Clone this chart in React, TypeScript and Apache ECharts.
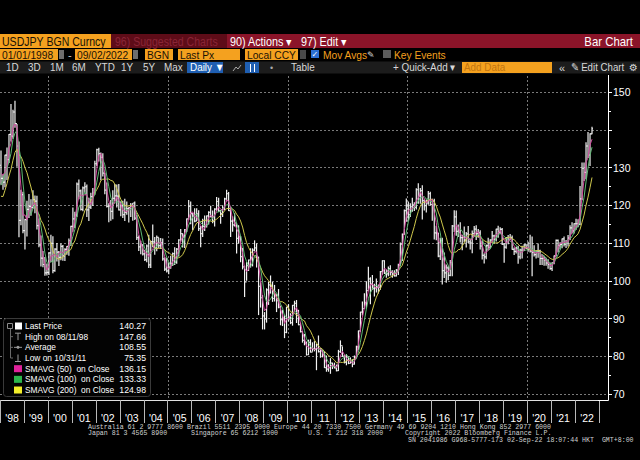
import React, { useEffect, useRef } from "react";
import * as echarts from "echarts";

// Month-end closes of Mar-Dec 1997 (only used to seed the moving averages)
const closes1997 = [123.7, 126.9, 116.5, 114.6, 118.3, 121.0, 120.6, 120.6, 127.6, 130.6];

// Monthly USDJPY bars, Jan 1998 .. Sep 2022
const closes = [
  127.1, 126.1, 133.3, 132.1, 138.8, 138.3, 144.7, 141.6, 135.7, 116.0, 122.8, 113.3,
  116.2, 118.9, 119.7, 119.4, 121.5, 121.1, 114.6, 109.5, 106.0, 104.3, 102.1, 102.2,
  107.4, 109.9, 102.7, 108.4, 107.6, 106.2, 109.1, 106.6, 108.3, 109.1, 110.6, 114.4,
  116.4, 117.4, 125.6, 123.8, 118.9, 124.6, 124.9, 118.8, 119.5, 122.3, 123.2, 131.0,
  134.7, 133.7, 132.7, 128.5, 124.0, 119.7, 119.8, 118.4, 121.8, 122.5, 122.4, 118.8,
  119.9, 117.5, 118.1, 119.1, 119.4, 120.0, 120.6, 116.6, 111.4, 109.0, 109.5, 107.1,
  105.6, 109.2, 104.2, 110.4, 110.3, 108.8, 111.5, 109.3, 110.1, 105.8, 103.1, 102.6,
  103.6, 104.6, 107.2, 104.9, 108.4, 110.8, 112.5, 111.6, 113.5, 116.4, 119.7, 117.8,
  117.2, 115.8, 117.7, 113.8, 112.5, 114.4, 114.6, 117.2, 118.1, 116.9, 115.8, 119.0,
  121.0, 118.5, 117.8, 119.4, 121.7, 123.1, 118.6, 115.8, 114.8, 115.3, 111.2, 111.7,
  106.4, 103.7, 99.7, 104.0, 105.5, 106.2, 108.1, 108.7, 106.1, 98.5, 95.5, 90.7,
  89.9, 97.6, 98.9, 98.6, 95.3, 96.4, 94.7, 93.0, 89.7, 90.1, 86.3, 93.0,
  90.3, 88.9, 93.5, 94.0, 91.3, 88.4, 86.5, 84.2, 83.5, 80.4, 83.7, 81.1,
  82.0, 81.8, 83.1, 81.2, 81.5, 80.5, 77.0, 76.6, 77.0, 78.2, 77.6, 76.9,
  76.2, 81.2, 82.8, 80.0, 78.4, 79.8, 78.1, 78.4, 77.9, 79.8, 82.5, 86.7,
  91.7, 92.6, 94.2, 97.4, 100.5, 99.1, 97.9, 98.1, 98.3, 98.3, 102.4, 105.3,
  102.0, 101.8, 103.2, 102.2, 101.8, 101.3, 102.8, 104.1, 109.7, 112.3, 118.6, 119.8,
  117.5, 119.6, 120.1, 119.4, 124.1, 122.5, 123.9, 121.2, 119.9, 120.6, 123.1, 120.2,
  121.1, 112.7, 112.6, 106.5, 110.7, 102.7, 102.1, 103.4, 101.4, 104.8, 114.5, 116.9,
  113.1, 112.8, 111.4, 111.5, 110.8, 112.4, 110.3, 110.0, 112.5, 113.7, 112.5, 112.7,
  109.2, 106.7, 106.3, 109.3, 108.8, 110.8, 111.9, 111.0, 113.7, 112.9, 113.6, 109.7,
  108.9, 111.4, 110.9, 111.4, 108.3, 107.8, 108.7, 106.3, 108.1, 108.0, 109.5, 108.6,
  108.4, 107.9, 107.5, 106.9, 107.8, 107.9, 105.9, 105.9, 105.5, 104.7, 104.3, 103.2,
  104.7, 106.6, 110.7, 109.3, 109.6, 111.1, 109.7, 110.0, 111.3, 114.0, 113.2, 115.1,
  115.1, 115.0, 121.7, 129.8, 128.7, 135.7, 133.3, 138.9, 140.27,
];

const highs = [
  134.5, 128.2, 133.4, 135.3, 138.9, 146.8, 145.3, 147.66, 141.5, 136.9, 124.1, 123.6,
  116.4, 121.2, 123.0, 121.6, 124.0, 122.6, 122.5, 116.4, 112.0, 107.9, 106.3, 104.6,
  107.5, 112.2, 111.8, 108.6, 110.0, 107.9, 109.9, 109.5, 108.6, 109.2, 111.2, 114.6,
  119.4, 118.3, 126.0, 126.8, 124.2, 125.0, 126.1, 125.5, 122.0, 123.3, 124.6, 131.8,
  135.0, 135.2, 134.0, 133.8, 128.6, 126.0, 120.5, 121.4, 124.0, 125.6, 125.5, 125.6,
  121.0, 121.2, 121.7, 121.0, 119.5, 120.6, 120.6, 121.0, 117.5, 112.0, 110.6, 109.7,
  108.2, 109.6, 112.2, 110.6, 114.9, 111.6, 112.0, 111.4, 111.3, 111.2, 106.2, 106.1,
  104.9, 106.6, 107.5, 108.9, 108.7, 111.0, 113.7, 112.5, 113.7, 116.5, 121.4, 121.0,
  118.0, 119.2, 119.2, 118.7, 114.5, 116.4, 117.3, 117.3, 118.4, 119.9, 118.6, 119.2,
  122.2, 122.0, 118.8, 120.0, 122.0, 124.1, 123.5, 119.5, 117.0, 117.9, 115.2, 114.7,
  111.8, 108.7, 104.0, 105.0, 105.6, 108.6, 108.6, 110.7, 109.9, 106.4, 99.6, 96.2,
  91.7, 98.0, 99.7, 101.4, 99.7, 98.9, 96.4, 97.8, 93.4, 92.3, 91.0, 93.1,
  93.8, 91.4, 93.6, 94.7, 94.9, 92.3, 88.9, 86.6, 85.9, 83.9, 84.4, 84.5,
  83.7, 84.0, 83.3, 85.5, 82.2, 81.7, 81.3, 80.2, 77.9, 79.5, 78.3, 78.3,
  77.8, 81.7, 84.2, 82.6, 80.4, 80.6, 80.0, 79.7, 79.2, 80.2, 82.8, 86.8,
  91.8, 94.5, 96.7, 99.9, 103.7, 100.9, 101.5, 99.2, 100.6, 99.0, 102.6, 105.4,
  105.4, 103.0, 103.8, 104.1, 102.8, 102.8, 103.1, 104.5, 110.1, 112.5, 118.9, 121.8,
  121.0, 120.5, 122.0, 120.8, 124.5, 125.86, 124.6, 125.3, 121.7, 121.5, 123.8, 123.6,
  121.7, 121.7, 114.6, 112.7, 111.4, 111.4, 107.5, 104.3, 104.0, 105.5, 114.8, 118.7,
  118.6, 114.9, 115.5, 112.2, 114.4, 112.9, 114.5, 111.1, 113.3, 114.5, 114.7, 113.7,
  113.4, 110.5, 107.3, 109.6, 111.4, 111.0, 113.2, 112.2, 113.8, 114.6, 114.2, 114.0,
  110.0, 111.5, 112.1, 112.4, 112.0, 108.8, 109.0, 109.3, 108.5, 109.3, 109.7, 109.7,
  110.3, 112.2, 111.7, 109.4, 108.1, 109.9, 108.2, 107.0, 106.6, 106.1, 105.7, 104.8,
  104.9, 106.7, 110.9, 110.9, 110.2, 111.2, 111.7, 110.8, 112.1, 114.7, 115.5, 115.2,
  116.4, 116.3, 125.1, 131.3, 131.3, 136.7, 139.4, 139.1, 140.8,
];

const lows = [
  125.4, 124.1, 124.8, 126.7, 131.2, 136.9, 137.6, 140.5, 130.2, 111.5, 114.7, 112.6,
  108.3, 111.7, 116.6, 117.2, 119.1, 117.9, 113.6, 108.9, 103.8, 103.6, 101.3, 101.4,
  101.5, 104.9, 102.0, 102.4, 105.1, 103.9, 105.4, 105.3, 105.2, 106.9, 106.6, 109.2,
  113.0, 114.0, 116.9, 121.6, 118.6, 118.4, 123.4, 116.9, 115.8, 119.0, 119.8, 122.8,
  130.3, 131.6, 126.6, 127.6, 122.9, 119.4, 115.5, 115.9, 116.3, 121.0, 119.4, 118.6,
  117.1, 116.6, 115.8, 117.5, 115.4, 116.9, 115.9, 116.1, 110.8, 107.9, 107.0, 106.7,
  105.2, 104.9, 103.4, 103.4, 108.9, 106.9, 107.8, 108.6, 108.4, 105.3, 102.6, 102.2,
  101.7, 103.2, 103.9, 104.2, 104.5, 106.4, 110.3, 108.8, 108.7, 112.9, 116.1, 115.0,
  113.4, 115.5, 115.8, 113.2, 108.9, 111.6, 113.2, 114.1, 114.9, 116.8, 115.2, 114.4,
  118.5, 118.3, 115.1, 116.9, 118.7, 121.0, 118.5, 111.6, 113.0, 114.4, 107.2, 109.8,
  104.9, 103.0, 95.7, 100.0, 102.6, 103.5, 103.8, 107.8, 103.5, 90.9, 92.9, 87.1,
  87.1, 88.9, 93.6, 96.6, 94.4, 94.5, 91.7, 92.7, 88.2, 88.0, 84.8, 86.1,
  89.2, 88.5, 88.1, 92.0, 88.8, 88.2, 86.3, 83.6, 82.9, 80.2, 80.3, 81.0,
  81.2, 81.3, 76.3, 81.0, 79.6, 79.7, 76.9, 75.9, 75.9, 75.35, 76.6, 76.8,
  76.0, 76.1, 80.9, 79.8, 78.1, 77.6, 77.9, 78.1, 77.1, 77.8, 79.4, 81.7,
  86.5, 90.8, 92.6, 92.6, 97.4, 93.8, 97.6, 95.8, 96.9, 96.6, 97.6, 101.6,
  101.8, 100.8, 101.2, 101.4, 100.8, 101.1, 101.1, 101.5, 104.0, 105.2, 112.2, 115.6,
  115.9, 116.9, 118.3, 118.5, 118.9, 120.4, 120.4, 116.2, 118.6, 118.1, 120.1, 119.9,
  115.9, 110.9, 110.7, 106.2, 105.5, 99.0, 100.7, 99.5, 100.1, 101.2, 101.2, 112.9,
  111.9, 111.6, 110.1, 108.1, 110.2, 108.8, 110.0, 108.3, 107.3, 111.7, 110.8, 111.4,
  108.3, 105.6, 104.6, 105.7, 108.1, 108.5, 110.3, 109.8, 110.4, 111.4, 112.3, 109.5,
  104.8, 108.5, 109.7, 110.8, 108.2, 106.8, 107.2, 104.5, 105.7, 105.9, 107.9, 108.4,
  107.7, 107.5, 101.2, 106.4, 105.9, 106.1, 104.2, 104.2, 104.0, 104.0, 103.2, 102.9,
  102.6, 104.4, 106.4, 107.5, 108.3, 108.6, 109.1, 108.7, 109.1, 110.8, 112.5, 112.5,
  113.5, 114.2, 114.7, 121.3, 126.4, 126.9, 132.5, 130.4, 138.8,
];

const yearLabels = [
  "'98", "'99", "'00", "'01", "'02", "'03", "'04", "'05", "'06", "'07", "'08", "'09", "'10",
  "'11", "'12", "'13", "'14", "'15", "'16", "'17", "'18", "'19", "'20", "'21", "'22",
];
const gridYears = [2000, 2005, 2010, 2015, 2020];

// moving-average windows in months (≈ 50 / 100 / 200 trading days)
const maWindows = [3, 5, 10];
const maColors = ["#cf4a9e", "#5fb874", "#cfc84c"];

const tagValues = [140.27, 136.15, 133.33, 124.98];
const tagFills = ["#ffffff", "#e0229b", "#2aa64c", "#f2ec2a"];
const tagText = ["#000000", "#ffd3ee", "#cdf5d4", "#000000"];

const legendLabels = [
  "Last Price", "High on 08/11/98", "Average", "Low on 10/31/11",
  "SMAVG (50)  on Close", "SMAVG (100)  on Close", "SMAVG (200)  on Close",
];
const legendValues = ["140.27", "147.66", "108.55", "75.35", "136.15", "133.33", "124.98"];

const footer1 = "Australia 61 2 9777 8600 Brazil 5511 2395 9000 Europe 44 20 7330 7500 Germany 49 69 9204 1210 Hong Kong 852 2977 6000";
const footer2 = ["Japan 81 3 4565 8900", "Singapore 65 6212 1000", "U.S. 1 212 318 2000", "Copyright 2022 Bloomberg Finance L.P."];
const footer3 = "SN 2041986 G968-5777-173 02-Sep-22 18:07:44 HKT  GMT+8:00";

const ORANGE = "#f4a11f";
const SANS = '"Liberation Sans", Arial, sans-serif';
const MONO = '"Liberation Mono", "DejaVu Sans Mono", monospace';
const GRID_COLOR = "#7a7a7a";

const PX_PER_YEAR = 23.96;
const X_MAX = 1998 + 608 / PX_PER_YEAR;

const xOf = (i: number) => 1998 + (i + 0.5) / 12;

function sma(w: number) {
  const all = closes1997.concat(closes);
  const off = closes1997.length;
  return closes.map((_, i) => {
    let s = 0;
    for (let k = 0; k < w; k++) s += all[off + i - k];
    return [xOf(i), +(s / w).toFixed(3)];
  });
}

function rect(x: number, y: number, w: number, h: number, fill: string, extra: any = {}) {
  return { type: "rect", z: 100, silent: true, shape: { x, y, width: w, height: h, r: extra.r || 0 }, style: { fill, stroke: extra.stroke, lineWidth: extra.lineWidth || 0 } };
}
function line(x1: number, y1: number, x2: number, y2: number, stroke: string, w = 1) {
  return { type: "line", z: 101, silent: true, shape: { x1, y1, x2, y2 }, style: { stroke, lineWidth: w } };
}
function txt(x: number, y: number, text: string, fill: string, size: number, opts: any = {}) {
  const align = opts.align || "left";
  return {
    type: "text", z: 102, silent: true, x, y, scaleX: opts.sx || 1,
    style: {
      text, fill, font: `${size}px ${opts.family || SANS}`,
      align, textAlign: align, verticalAlign: "middle", textVerticalAlign: "middle",
    },
  };
}

function buildGraphics() {
  const g: any[] = [];
  // Row 1: title band
  g.push(rect(0, 34, 111, 14, ORANGE));
  g.push(txt(2, 41.5, "USDJPY BGN Curncy", "#161006", 12, { sx: 0.88 }));
  g.push(rect(111, 34, 116, 14, "#5e0c18"));
  g.push(txt(115, 41.5, "96) Suggested Charts", "#8a2536", 12, { sx: 0.88 }));
  g.push(rect(227, 34, 413, 14, "#8b1429"));
  g.push(txt(230, 41.5, "90) Actions \u25BE", "#ffffff", 12, { sx: 0.9 }));
  g.push(txt(301, 41.5, "97) Edit \u25BE", "#ffffff", 12, { sx: 0.9 }));
  g.push(txt(633, 41.5, "Bar Chart", "#ffffff", 12, { sx: 0.95, align: "right" }));

  // Row 2: parameters
  const y2 = 54.5;
  const boxes: [number, number, string][] = [
    [0, 58, "01/01/1998"], [75, 57, "09/02/2022"], [145, 28, "BGN"], [178, 62, "Last Px"], [245, 53, "Local CCY"],
  ];
  boxes.forEach(([x, w, t]) => {
    g.push(rect(x, 49, w, 11, ORANGE));
    g.push(txt(x + 2, y2, t, "#1a1206", 11, { sx: 0.93 }));
  });
  g.push(rect(59, 50, 5, 9, "#6e6e6e"));
  g.push(rect(133, 50, 5, 9, "#6e6e6e"));
  g.push(txt(68, y2, "-", "#cccccc", 11));
  g.push(rect(300, 50, 6, 9, "#4a4a4a"));
  g.push(rect(311, 50, 8, 8, "#2b6fd2"));
  g.push(txt(311.5, 54, "\u2713", "#ffffff", 8, { family: "DejaVu Sans" }));
  g.push(txt(323, y2, "Mov Avgs", ORANGE, 11, { sx: 0.93 }));
  g.push(txt(367, y2, "\u270E", "#dddddd", 9, { family: "DejaVu Sans" }));
  g.push(rect(383, 50, 8, 8, "#5c5c5c"));
  g.push(txt(394, y2, "Key Events", ORANGE, 11, { sx: 0.93 }));

  // Row 3: toolbar
  const y3 = 67.5;
  g.push(rect(0, 61.5, 640, 12, "#1c1c1c"));
  const tbtn: [number, string][] = [[6, "1D"], [28, "3D"], [50, "1M"], [72, "6M"], [95, "YTD"], [121, "1Y"], [143, "5Y"], [164, "Max"]];
  tbtn.forEach(([x, t]) => g.push(txt(x, y3, t, "#d8d8d8", 11, { sx: 0.9 })));
  g.push(rect(187, 62, 36, 11, "#1f5fb2"));
  g.push(txt(190, y3, "Daily \u25BC", "#ffffff", 11, { sx: 0.9 }));
  g.push({ type: "polyline", z: 101, silent: true, shape: { points: [[233, 71], [236, 67], [238, 69], [241, 65]] }, style: { stroke: "#aaaaaa", lineWidth: 1, fill: "none" } });
  g.push(rect(245, 62, 14, 11, "#1f5fb2"));
  g.push(line(250.5, 64, 250.5, 72, "#ffffff"));
  g.push(line(254.5, 64, 254.5, 72, "#ffffff"));
  g.push(txt(270, y3, "\u2022", "#aaaaaa", 9));
  g.push(txt(291, y3, "Table", "#d8d8d8", 11, { sx: 0.9 }));
  g.push(txt(393, y3, "+ Quick-Add \u25BE", "#d8d8d8", 11, { sx: 0.9 }));
  g.push(rect(462, 62, 90, 11, ORANGE));
  g.push(txt(464, y3, "Add Data", "#c27510", 11, { sx: 0.9 }));
  g.push(txt(559, y3, "\u00AB", "#d8d8d8", 11));
  g.push(txt(571, y3, "\u270E Edit Chart", "#d8d8d8", 11, { sx: 0.88 }));
  g.push(txt(629, y3, "\u2699", "#d8d8d8", 10, { family: "DejaVu Sans" }));

  // chart frame (right axis line and the last bit of the bottom line)
  g.push({ type: "polyline", z: 101, silent: true, shape: { points: [[608.5, 75], [608.5, 400.5], [598, 400.5]] }, style: { stroke: "#ffffff", lineWidth: 1, fill: "none" } });

  // Legend box
  g.push(rect(3.5, 318.5, 147, 78, "#030303", { stroke: "#3a3a3a", lineWidth: 1, r: 3 }));
  const rowY = legendLabels.map((_, i) => 326 + i * 10.67);
  legendLabels.forEach((t, i) => {
    g.push(txt(25, rowY[i], t, "#ffffff", 9, { sx: 0.93 }));
    g.push(txt(146, rowY[i], legendValues[i], "#ffffff", 9, { align: "right", sx: 0.97 }));
  });
  // icons
  g.push(rect(7.5, 323.5, 5, 5, "#030303", { stroke: "#8a8a8a", lineWidth: 1 }));
  g.push(line(10.5, 329, 10.5, rowY[3], "#6a6a6a"));
  [1, 2, 3].forEach((i) => g.push(line(10.5, rowY[i], 13, rowY[i], "#6a6a6a")));
  g.push(rect(15, rowY[0] - 3.5, 7, 7, "#ffffff"));
  g.push(line(15, rowY[1] - 3.5, 21, rowY[1] - 3.5, "#9a9a9a"));
  g.push(line(18, rowY[1] - 3.5, 18, rowY[1] + 3.5, "#9a9a9a"));
  g.push(line(14, rowY[2], 22, rowY[2], "#9a9a9a"));
  g.push({ type: "circle", z: 101, silent: true, shape: { cx: 18, cy: rowY[2], r: 1.5 }, style: { fill: "#9a9a9a" } });
  g.push(line(18, rowY[3] - 3.5, 18, rowY[3] + 3.5, "#9a9a9a"));
  g.push(line(15, rowY[3] + 3.5, 21, rowY[3] + 3.5, "#9a9a9a"));
  [4, 5, 6].forEach((i, k) => g.push(rect(14, rowY[i] - 3.5, 8, 7, ["#e0229b", "#2cb64b", "#f2ee2a"][k])));

  // footer
  g.push(txt(88, 427, footer1, "#d0d0d0", 6.6, { family: MONO }));
  const fx = [88, 191, 308, 405];
  footer2.forEach((t, i) => g.push(txt(fx[i], 433.5, t, "#d0d0d0", 6.6, { family: MONO })));
  g.push(txt(408, 440.5, footer3, "#d0d0d0", 6.6, { family: MONO }));
  return g;
}

function buildOption() {
  const ohlc = closes.map((c, i) => {
    const o = i === 0 ? closes1997[closes1997.length - 1] : closes[i - 1];
    return [xOf(i), o, c, lows[i], highs[i]];
  });
  const gridStyle = { color: GRID_COLOR, type: [2, 2] as any, width: 1 };
  const maSeries = maWindows.map((w, k) => ({
    type: "line",
    name: `MA${w}`,
    xAxisIndex: 0,
    yAxisIndex: 0,
    data: sma(w),
    showSymbol: false,
    symbol: "none",
    smooth: false,
    z: 4 + (2 - k),
    lineStyle: { color: maColors[k], width: 1 },
    silent: true,
  }));
  (maSeries[2] as any).markLine = {
    silent: true,
    symbol: ["none", "none"],
    lineStyle: { opacity: 0, width: 0 },
    data: tagValues.map((v, i) => ({
      yAxis: v,
      label: {
        show: true,
        position: "end",
        distance: 1,
        offset: i === 3 ? [0, -7] : [0, 0],
        formatter: () => v.toFixed(2),
        backgroundColor: tagFills[i],
        color: tagText[i],
        fontSize: 9,
        fontFamily: SANS,
        padding: [1, 1, 0, 2],
        borderRadius: 2,
      },
    })),
  };
  // vertical dotted gridlines every five years, drawn behind the bars
  const gridSeries = {
    type: "custom",
    name: "vgrid",
    xAxisIndex: 0,
    yAxisIndex: 0,
    data: gridYears.map((yr) => [yr, 110]),
    encode: { x: 0, y: 1 },
    z: 1,
    silent: true,
    clip: false,
    renderItem: (params: any, api: any) => {
      const cs = params.coordSys;
      const p = api.coord([api.value(0), api.value(1)]);
      const x = Math.round(p[0]) + 0.5;
      return {
        type: "line",
        shape: { x1: x, y1: cs.y - 16, x2: x, y2: cs.y + cs.height + 6 },
        style: { stroke: GRID_COLOR, lineWidth: 1, lineDash: [2, 2] },
      };
    },
  };
  return {
    backgroundColor: "#000000",
    animation: false,
    grid: [
      { left: 0, right: 32, top: 92, bottom: 66 },
      { left: 0, right: 41, top: 76, bottom: 60 },
    ],
    xAxis: [
      {
        type: "value", gridIndex: 0, min: 1998, max: X_MAX,
        axisLine: { show: false }, axisTick: { show: false }, axisLabel: { show: false },
        splitLine: { show: false },
      },
      {
        type: "category", gridIndex: 1, data: yearLabels, boundaryGap: true, position: "bottom",
        axisLine: { show: true, lineStyle: { color: "#e0e0e0", width: 1 } },
        axisTick: { show: true, length: 23, interval: 0, lineStyle: { color: "#b8b8b8" } },
        axisLabel: { color: "#ffffff", fontSize: 10.5, fontFamily: SANS, margin: 12, interval: 0 },
        splitLine: { show: false },
      },
    ],
    yAxis: [
      {
        type: "value", gridIndex: 0, position: "right", min: 70, max: 150, interval: 10,
        axisLine: { show: false },
        axisTick: { show: true, length: 4, lineStyle: { color: "#ffffff" } },
        minorTick: { show: true, splitNumber: 2, length: 3, lineStyle: { color: "#ffffff" } },
        axisLabel: {
          color: "#ffffff", fontSize: 10.5, fontFamily: SANS, margin: 5,
          formatter: (v: number) => (tagValues.some((t) => Math.abs(t - v) < 1.5) ? "" : String(v)),
        },
        splitLine: { show: true, lineStyle: gridStyle },
      },
      { type: "value", gridIndex: 1, show: false, min: 0, max: 1 },
    ],
    series: [
      gridSeries,
      {
        type: "custom",
        name: "USDJPY",
        xAxisIndex: 0,
        yAxisIndex: 0,
        data: ohlc,
        encode: { x: 0, y: [1, 2, 3, 4] },
        z: 3,
        silent: true,
        renderItem: (_p: any, api: any) => {
          const x = api.value(0);
          const o = api.coord([x, api.value(1)]);
          const c = api.coord([x, api.value(2)]);
          const l = api.coord([x, api.value(3)]);
          const h = api.coord([x, api.value(4)]);
          const s = { stroke: "#f2f2f2", lineWidth: 1.2 };
          return {
            type: "group",
            children: [
              { type: "line", shape: { x1: h[0], y1: h[1], x2: l[0], y2: l[1] }, style: s },
              { type: "line", shape: { x1: o[0] - 1, y1: o[1], x2: o[0], y2: o[1] }, style: s },
              { type: "line", shape: { x1: c[0], y1: c[1], x2: c[0] + 1, y2: c[1] }, style: s },
            ],
          };
        },
      },
      ...maSeries,
    ],
    graphic: { elements: buildGraphics() },
  };
}

export default function App() {
  const ref = useRef<HTMLDivElement>(null);
  useEffect(() => {
    document.body.style.margin = "0";
    document.body.style.background = "#000";
    const chart = echarts.init(ref.current as HTMLDivElement, undefined, { renderer: "svg" });
    chart.setOption(buildOption() as any);
    return () => chart.dispose();
  }, []);
  return <div ref={ref} style={{ width: 640, height: 460, background: "#000" }} />;
}
